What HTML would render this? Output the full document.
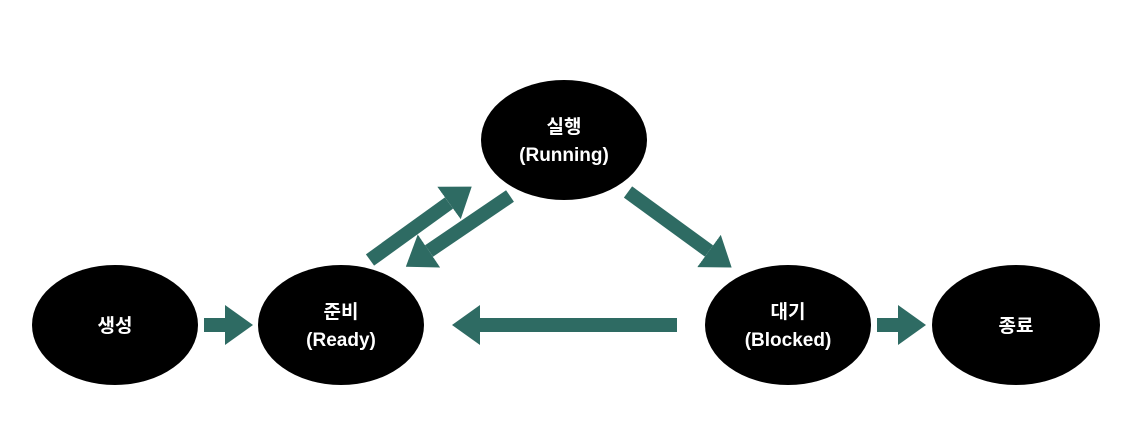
<!DOCTYPE html>
<html><head><meta charset="utf-8"><style>
html,body{margin:0;padding:0;background:#fff;}
text{font-family:"Liberation Sans","Noto Sans CJK KR",sans-serif;font-size:19px;font-weight:bold;fill:#fff;text-anchor:middle;}
</style></head><body>
<svg width="1122" height="432" viewBox="0 0 1122 432" xmlns="http://www.w3.org/2000/svg">
<defs>
<marker id="h" viewBox="0 0 28 40" refX="0" refY="20" markerWidth="28" markerHeight="40" markerUnits="userSpaceOnUse" orient="auto">
<path d="M0,0 L28,20 L0,40 z" fill="#2e6b63"/>
</marker>
</defs>
<g fill="#000">
<ellipse cx="115" cy="325" rx="83" ry="60"/>
<ellipse cx="341" cy="325" rx="83" ry="60"/>
<ellipse cx="564" cy="140" rx="83" ry="60"/>
<ellipse cx="788" cy="325" rx="83" ry="60"/>
<ellipse cx="1016" cy="325" rx="84" ry="60"/>
</g>
<g stroke="#2e6b63" stroke-width="14" marker-end="url(#h)">
<line x1="204" y1="325" x2="225" y2="325"/>
<line x1="677" y1="325" x2="480" y2="325"/>
<line x1="877" y1="325" x2="898" y2="325"/>
<line x1="370" y1="260" x2="449" y2="203"/>
<line x1="510" y1="196" x2="429" y2="251"/>
<line x1="628" y1="192" x2="709" y2="251"/>
</g>
<text x="115" y="332">생성</text>
<text x="341" y="318">준비</text>
<text x="341" y="346">(Ready)</text>
<text x="564" y="133">실행</text>
<text x="564" y="161">(Running)</text>
<text x="788" y="318">대기</text>
<text x="788" y="346">(Blocked)</text>
<text x="1016" y="332">종료</text>
</svg>
</body></html>
